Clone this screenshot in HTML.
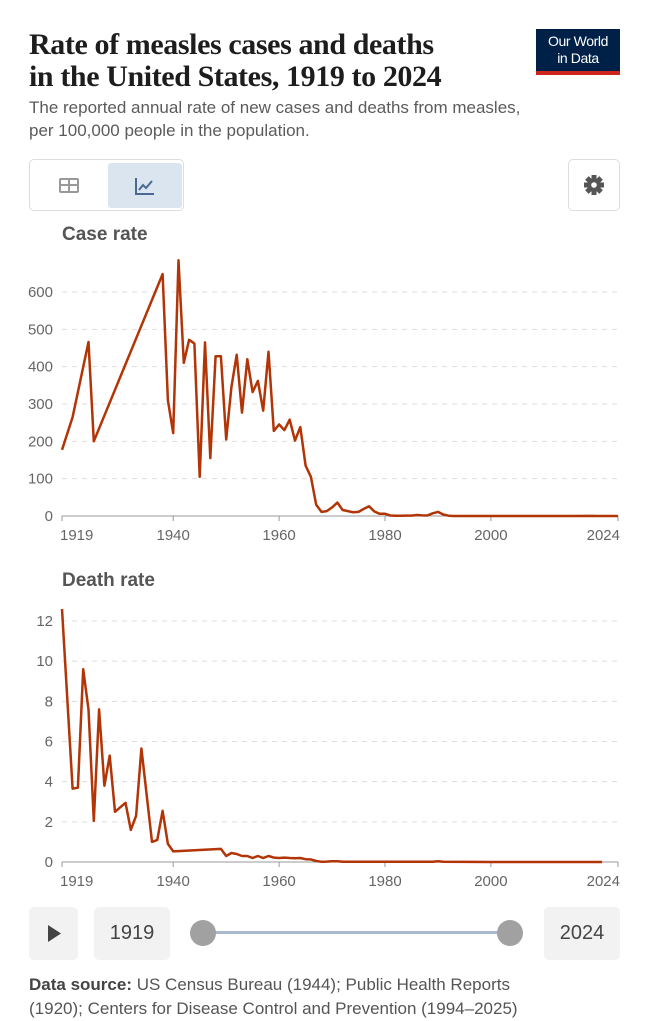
<!DOCTYPE html>
<html><head><meta charset="utf-8">
<style>
html,body{margin:0;padding:0;background:#fff;width:649px;height:1000px;overflow:hidden;font-family:"Liberation Sans",sans-serif}
.abs{position:absolute}
#title{left:29px;top:29px;font-family:"Liberation Serif",serif;font-size:30px;line-height:32px;color:#1d1d1d;margin:0;font-weight:600;letter-spacing:-0.4px}
#sub{left:29px;top:96px;font-size:17px;line-height:23px;color:#5b5b5b;margin:0;width:570px}
#logo{left:536px;top:29px;width:84px;height:46px;background:#002147;color:#fff;font-size:14px;line-height:17px;text-align:center;box-sizing:border-box;padding-top:4px;border-bottom:4px solid #ce261e;letter-spacing:-0.4px}
.btn{border:1px solid #ddd;border-radius:5px;box-sizing:border-box;background:#fff}
.grey{background:#f2f2f2;border-radius:5px}
</style></head><body>
<div id="title" class="abs">Rate of measles cases and deaths<br>in the United States, 1919 to 2024</div>
<div id="logo" class="abs">Our World<br>in Data</div>
<div id="sub" class="abs">The reported annual rate of new cases and deaths from measles,<br>per 100,000 people in the population.</div>
<div class="abs btn" style="left:29px;top:159px;width:155px;height:52px">
  <div class="abs" style="left:1px;top:1px;width:76px;height:48px">
    <svg width="76" height="48"><rect x="28" y="17" width="20" height="15" rx="2" fill="#999"/><rect x="30" y="19" width="7" height="4" fill="#fff"/><rect x="39" y="19" width="7" height="4" fill="#fff"/><rect x="30" y="25" width="7" height="5" fill="#fff"/><rect x="39" y="25" width="7" height="5" fill="#fff"/></svg>
  </div>
  <div class="abs" style="left:78px;top:3px;width:74px;height:45px;background:#dbe5f0;border-radius:3px">
    <svg width="74" height="45"><path d="M28 15 V31 H46" stroke="#4a6a96" stroke-width="2" fill="none"/><path d="M31 27 L35 22 L38 25 L44 18" stroke="#4a6a96" stroke-width="2" fill="none"/></svg>
  </div>
</div>
<div class="abs btn" style="left:568px;top:159px;width:52px;height:52px">
  <svg width="50" height="50"><g transform="translate(25,25)" fill="#555"><circle r="7"/><rect x="-2.5" y="-10" width="5" height="20"/><rect x="-2.5" y="-10" width="5" height="20" transform="rotate(45)"/><rect x="-2.5" y="-10" width="5" height="20" transform="rotate(90)"/><rect x="-2.5" y="-10" width="5" height="20" transform="rotate(135)"/><circle r="2.8" fill="#fff"/></g></svg>
</div>

<svg class="abs" id="charts" style="left:0;top:0" width="649" height="900" font-family="Liberation Sans, sans-serif"></svg>

<div class="abs grey" style="left:29px;top:907px;width:49px;height:53px">
  <svg width="49" height="53"><path d="M19 18 L32 26.5 L19 35 Z" fill="#444"/></svg>
</div>
<div class="abs grey" style="left:94px;top:907px;width:76px;height:53px;font-size:20px;line-height:53px;text-align:center;color:#444">1919</div>
<div class="abs" style="left:203px;top:931px;width:307px;height:3px;background:#a9b8cc"></div>
<div class="abs" style="left:190px;top:920px;width:26px;height:26px;border-radius:50%;background:#a1a1a1"></div>
<div class="abs" style="left:497px;top:920px;width:26px;height:26px;border-radius:50%;background:#a1a1a1"></div>
<div class="abs grey" style="left:544px;top:907px;width:76px;height:53px;font-size:20px;line-height:53px;text-align:center;color:#444">2024</div>
<div class="abs" style="left:29px;top:973px;font-size:17px;line-height:24px;color:#555;white-space:nowrap"><b style="color:#444">Data source:</b> US Census Bureau (1944); Public Health Reports<br>(1920); Centers for Disease Control and Prevention (1994–2025)</div>

<script>
const caseYears=[1919,1921,1924,1925,1938,1939,1940,1941,1942,1943,1944,1945,1946,1947,1948,1949,1950,1951,1952,1953,1954,1955,1956,1957,1958,1959,1960,1961,1962,1963,1964,1965,1966,1967,1968,1969,1970,1971,1972,1973,1974,1975,1976,1977,1978,1979,1980,1981,1982,1983,1984,1985,1986,1987,1988,1989,1990,1991,1992,1993,1995,2000,2005,2010,2015,2019,2020,2024];
const caseValues=[177,265,466,200,648,310,222,685,410,472,462,105,465,155,428,428,205,345,432,277,420,332,362,282,440,228,245,230,258,202,238,135,105,30,11,13,23,36,16,13,10,11,19,26,12,6,6,1.4,0.7,0.6,1.1,1.2,2.6,1.5,1.4,7.3,11,4,0.9,0.1,0.1,0.03,0.02,0.02,0.06,0.4,0.03,0.1];
const deathYears=[1919,1921,1922,1923,1924,1925,1926,1927,1928,1929,1931,1932,1933,1934,1936,1937,1938,1939,1940,1949,1950,1951,1952,1953,1954,1955,1956,1957,1958,1959,1960,1961,1962,1963,1964,1965,1966,1967,1968,1969,1970,1971,1972,1980,1989,1990,1991,2000,2021];
const deathValues=[12.6,3.65,3.7,9.6,7.6,2.05,7.6,3.8,5.3,2.5,2.95,1.6,2.3,5.65,1.0,1.1,2.55,0.9,0.53,0.65,0.3,0.45,0.4,0.3,0.3,0.2,0.3,0.2,0.3,0.22,0.2,0.22,0.2,0.19,0.2,0.14,0.13,0.05,0.01,0.02,0.04,0.04,0.01,0.01,0.01,0.04,0.01,0.0,0.0];
const caseTicks=[0,100,200,300,400,500,600];
const deathTicks=[0,2,4,6,8,10,12];
const xTicks=[1919,1940,1960,1980,2000,2024];

const NS="http://www.w3.org/2000/svg";
const svg=document.getElementById('charts');
function mk(tag,attrs,parent){const e=document.createElementNS(NS,tag);for(const k in attrs)e.setAttribute(k,attrs[k]);(parent||svg).appendChild(e);return e;}
const x=yr=>62+(yr-1919)*(556/105);

function chart(name,title,titleY,y0,pxPerUnit,ticks,years,vals){
  const g=mk('g',{});
  
  
  const y=v=>y0-v*pxPerUnit;
  const t=mk('text',{x:62,y:titleY,'font-size':19,'font-weight':'bold',fill:'#555'},g);t.textContent=title;
  
  
  ticks.forEach(v=>{
    if(v>0){const l=mk('line',{x1:62,x2:618,y1:y(v),y2:y(v),stroke:'#ddd','stroke-dasharray':'5,5'},g);
      
      }
    const tx=mk('text',{x:53,y:y(v)+5,'font-size':15,fill:'#666','text-anchor':'end'},g);tx.textContent=v;
    
    
  });
  const ax=mk('line',{x1:62,x2:618,y1:y0,y2:y0,stroke:'#999','stroke-width':1},g);
  
  
  xTicks.forEach((yr,i)=>{
    mk('line',{x1:x(yr),x2:x(yr),y1:y0,y2:y0+5,stroke:'#999'},g);
    const anchor=i==0?'start':(i==xTicks.length-1?'end':'middle');
    const tx=mk('text',{x:x(yr)+(i==0?-2:i==xTicks.length-1?2:0),y:y0+24,'font-size':15,fill:'#666','text-anchor':anchor},g);tx.textContent=yr;
    
    
  });
  const d=years.map((yr,i)=>(i?'L':'M')+x(yr).toFixed(1)+' '+y(vals[i]).toFixed(1)).join(' ');
  const p=mk('path',{d:d,fill:'none',stroke:'#b13507','stroke-width':2.5,'stroke-linejoin':'round'},g);
  
  
}
chart('case-rate-chart','Case rate',240,516,224/600,caseTicks,caseYears,caseValues);
chart('death-rate-chart','Death rate',586,862,241/12,deathTicks,deathYears,deathValues);
</script>
</body></html>
